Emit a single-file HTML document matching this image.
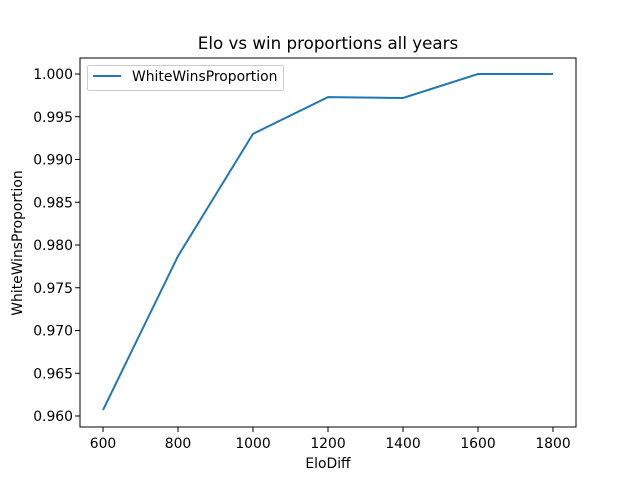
<!DOCTYPE html>
<html><head><meta charset="utf-8"><style>
body{margin:0;background:#fff;}
svg text{font-family:"DejaVu Sans","Liberation Sans",sans-serif;fill:#000;}
</style></head><body>
<svg id="chart" width="640" height="480" xmlns="http://www.w3.org/2000/svg">
<rect width="640" height="480" fill="#fff"/>
<text x="328" y="49" font-size="16.7" text-anchor="middle">Elo vs win proportions all years</text>
<g id="xticks"></g>
<g id="yticks"></g>
<text x="328" y="468" font-size="13.9" text-anchor="middle">EloDiff</text>
<text transform="translate(22,243) rotate(-90)" font-size="13.9" text-anchor="middle">WhiteWinsProportion</text>
<path id="line" fill="none" stroke="#1f77b4" stroke-width="2"/>
<rect x="80" y="58" width="496" height="369" fill="none" stroke="#000" stroke-width="1"/>
<g>
<rect x="87.5" y="65.5" width="196" height="25" rx="2" fill="#fff" fill-opacity="0.8" stroke="#ccc"/>
<line x1="93" y1="76" x2="121" y2="76" stroke="#1f77b4" stroke-width="2"/>
<text x="132" y="81" font-size="13.9">WhiteWinsProportion</text>
</g>
</svg>
<script>
const categories=[600,800,1000,1200,1400,1600,1800];
const values=[0.9607,0.9787,0.9930,0.9973,0.9972,1.0,1.0];
const xTicks=[600,800,1000,1200,1400,1600,1800];
const yTicks=[0.960,0.965,0.970,0.975,0.980,0.985,0.990,0.995,1.000];
function xs(v){return 103+(v-600)*450/1200;}
function ys(v){return 416-(v-0.960)*342/0.040;}
const NS="http://www.w3.org/2000/svg";
const xg=document.getElementById('xticks'),yg=document.getElementById('yticks');
xTicks.forEach(t=>{
 const l=document.createElementNS(NS,'line');
 l.setAttribute('x1',xs(t));l.setAttribute('x2',xs(t));l.setAttribute('y1',427);l.setAttribute('y2',432);l.setAttribute('stroke','#000');l.setAttribute('stroke-width','1');
 
 
 xg.appendChild(l);
 const tx=document.createElementNS(NS,'text');
 tx.setAttribute('x',xs(t));tx.setAttribute('y',448);tx.setAttribute('font-size','13.9');tx.setAttribute('text-anchor','middle');tx.textContent=t;
 
 
 xg.appendChild(tx);
});
yTicks.forEach(t=>{
 const l=document.createElementNS(NS,'line');
 l.setAttribute('x1',75);l.setAttribute('x2',80);l.setAttribute('y1',ys(t));l.setAttribute('y2',ys(t));l.setAttribute('stroke','#000');l.setAttribute('stroke-width','1');
 
 
 yg.appendChild(l);
 const tx=document.createElementNS(NS,'text');
 tx.setAttribute('x',73);tx.setAttribute('y',ys(t)+5);tx.setAttribute('font-size','13.9');tx.setAttribute('text-anchor','end');tx.textContent=t.toFixed(3);
 
 
 yg.appendChild(tx);
});
document.getElementById('line').setAttribute('d',categories.map((c,i)=>(i?'L':'M')+xs(c)+','+ys(values[i])).join(' '));
</script>
</body></html>
